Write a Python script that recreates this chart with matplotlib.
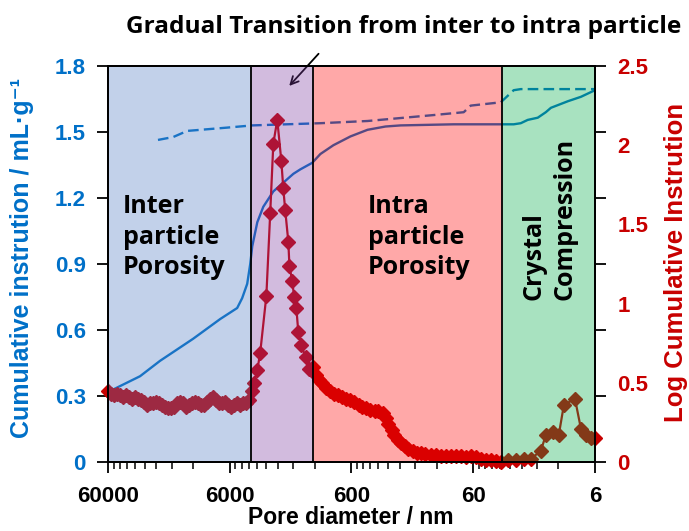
import matplotlib
matplotlib.use("Agg")
import matplotlib.pyplot as plt
from matplotlib.ticker import FixedLocator, NullFormatter

# cumulative intrusion (left axis, mL/g) vs pore diameter (nm)
cum_d = [60000, 32700, 22400, 12000, 7180, 5210, 4740, 4310, 4070, 3920,
         3560, 3180, 2630, 1800, 1580, 1260, 1080, 844, 611, 443,
         315, 237, 86.8, 34.3, 27.9, 24.4, 21.4, 17.7, 15.2, 13.8,
         10.0, 7.82, 6.0]
cum_v = [0.318, 0.39, 0.46, 0.56, 0.65, 0.70, 0.745, 0.81, 0.90, 0.98,
         1.09, 1.16, 1.23, 1.31, 1.33, 1.36, 1.40, 1.44, 1.48, 1.51,
         1.525, 1.53, 1.535, 1.535, 1.535, 1.54, 1.555, 1.565, 1.59, 1.61,
         1.64, 1.66, 1.69]

# second cumulative run (dashed)
dash_d = [23300, 17500, 13400, 6290, 3920, 1080, 443, 127, 71.8, 62.9,
          35.6, 27.9, 24.4, 6.0]
dash_v = [1.464, 1.477, 1.505, 1.52, 1.53, 1.54, 1.55, 1.577, 1.59, 1.62,
          1.635, 1.69, 1.695, 1.695]

# log differential intrusion (right axis)
log_d = [60000, 56700, 53600, 50600, 47800, 45200, 42700, 40300, 38100, 36000,
         34000, 32100, 30300, 28700, 27100, 25600, 24200, 22800, 21600, 20400,
         19300, 18200, 17200, 16200, 15300, 14500, 13700, 12900, 12200, 11500,
         10900, 10300, 9740, 9200, 8690, 8210, 7760, 7330, 6920, 6540,
         6180, 5840, 5520, 5210, 4920, 4650, 4390, 4150, 3920,
         3770, 3560, 3370, 3000, 2790, 2630, 2440, 2260, 2180, 2100,
         1980, 1940, 1840, 1770, 1700, 1640, 1550, 1430, 1330,
         1233, 1165, 1100, 1039, 964, 893, 828, 768, 711, 659,
         611, 567, 525, 487, 452, 419, 388, 360, 333, 315,
         298, 281, 266, 251, 237, 220, 204, 189, 175, 162,
         148, 134, 122, 111, 101, 91.9, 83.6, 76.0, 69.2, 62.9,
         57.2, 52.0, 47.3, 43.1, 39.2, 35.6,
         31.2, 26.8, 23.0, 20.2, 16.7, 15.2, 13.3, 11.9, 10.8, 8.76,
         7.82, 7.12, 6.47, 6.0]
log_v = [0.45, 0.43, 0.42, 0.43, 0.42, 0.41, 0.42, 0.41, 0.40, 0.41,
         0.40, 0.39, 0.38, 0.36, 0.37, 0.37, 0.38, 0.37, 0.36, 0.35,
         0.34, 0.34, 0.35, 0.37, 0.38, 0.37, 0.35, 0.36, 0.37, 0.38,
         0.37, 0.36, 0.36, 0.38, 0.40, 0.41, 0.39, 0.37, 0.37, 0.38,
         0.36, 0.35, 0.36, 0.37, 0.36, 0.37, 0.37, 0.39, 0.45,
         0.50, 0.58, 0.69, 1.05, 1.57, 2.01, 2.16, 1.90, 1.73, 1.59,
         1.39, 1.24, 1.14, 1.04, 0.97, 0.82, 0.74, 0.66, 0.59,
         0.60, 0.55, 0.52, 0.50, 0.47, 0.45, 0.43, 0.42, 0.41, 0.40,
         0.39, 0.38, 0.36, 0.35, 0.34, 0.33, 0.32, 0.32, 0.31, 0.28,
         0.24, 0.20, 0.17, 0.14, 0.12, 0.10, 0.085, 0.07, 0.06, 0.055,
         0.05, 0.045, 0.045, 0.04, 0.04, 0.04, 0.035, 0.035, 0.03, 0.035,
         0.03, 0.02, 0.015, 0.01, 0.005, 0.0,
         0.01, 0.015, 0.02, 0.02, 0.07, 0.17, 0.19, 0.17, 0.36, 0.40,
         0.21, 0.17, 0.15, 0.15]

# porosity regions: (from, to, colour)
regions = [(60000, 4000, "#4c7ac2"),
           (4000, 1250, "#7d3aa1"),
           (1250, 35, "#ff0000"),
           (35, 6, "#00aa49")]
region_edges = [4000, 1250, 35]

x_major = [60000, 6000, 600, 60, 6]
x_major_labels = ["60000", "6000", "600", "60", "6"]
x_minor = [k * 6 * 10 ** n for n in range(4) for k in range(2, 10)]
left_ticks = [0, 0.3, 0.6, 0.9, 1.2, 1.5, 1.8]
left_labels = ["0", "0.3", "0.6", "0.9", "1.2", "1.5", "1.8"]
right_ticks = [0, 0.5, 1, 1.5, 2, 2.5]
right_labels = ["0", "0.5", "1", "1.5", "2", "2.5"]

BLUE = "#0070c8"
RED = "#c80000"
arial = ["Liberation Sans", "DejaVu Sans"]
heading = ["Open Sans", "DejaVu Sans"]

fig = plt.figure(figsize=(6.89, 5.31), dpi=100)
ax = fig.add_axes([0.1567, 0.1299, 0.7068, 0.7458])
ax2 = ax.twinx()

ax.plot(cum_d, cum_v, color=BLUE, lw=1.7, zorder=2)
ax.plot(dash_d, dash_v, color=BLUE, lw=1.7, dashes=(4.5, 2.2), zorder=2)

ax2.plot(log_d, log_v, color=RED, lw=1.6, marker="D", ms=7.5,
         mec=RED, mfc=RED, zorder=1.5, clip_on=False)

# translucent region shading sits over all curves
for x0, x1, c in regions:
    ax2.axvspan(x0, x1, color=c, alpha=0.34, lw=0, zorder=2)
for xe in region_edges:
    ax2.axvline(xe, color="black", lw=1.3, zorder=2.4)

ax.set_xscale("log")
ax.set_xlim(60000, 6)
ax.set_ylim(0, 1.8)
ax2.set_ylim(0, 2.5)

ax.xaxis.set_major_locator(FixedLocator(x_major))
ax.set_xticklabels(x_major_labels)
ax.xaxis.set_minor_locator(FixedLocator(x_minor))
ax.xaxis.set_minor_formatter(NullFormatter())
ax.set_yticks(left_ticks)
ax.set_yticklabels(left_labels)
ax2.set_yticks(right_ticks)
ax2.set_yticklabels(right_labels)

ax.tick_params(axis="x", which="major", direction="out", length=8, width=1.3, pad=9)
ax.tick_params(axis="x", which="minor", direction="out", length=5, width=1.1)
ax.tick_params(axis="y", direction="out", length=8, width=1.3, right=True, pad=8,
               labelcolor=BLUE)
ax2.tick_params(axis="y", length=0, pad=16, labelcolor=RED)

for lab in ax.get_xticklabels() + ax.get_yticklabels() + ax2.get_yticklabels():
    lab.set_family(arial)
    lab.set_fontsize(16)
    lab.set_fontweight("bold")

for a in (ax, ax2):
    for s in a.spines.values():
        s.set_linewidth(1.4)

# axis titles
fig.text(351 / 689, 1 - 518 / 531, "Pore diameter / nm", family=arial,
         fontsize=16.5, fontweight="bold", ha="center", va="center")
fig.text(22 / 689, 1 - 258 / 531, "Cumulative instrution / mL·g⁻¹", family=arial,
         fontsize=18, fontweight="bold", color=BLUE, rotation=90,
         ha="center", va="center")
fig.text(676 / 689, 1 - 262 / 531, "Log Cumulative Instrution", family=arial,
         fontsize=18.5, fontweight="bold", color=RED, rotation=90,
         ha="center", va="center")

txt = dict(family=heading, fontsize=18, fontweight="bold", color="black",
           transform=ax.transAxes, zorder=5, linespacing=1.3)
ax2.text(0.031, 0.568, "Inter\nparticle\nPorosity", ha="left", va="center", **txt)
ax2.text(0.534, 0.568, "Intra\nparticle\nPorosity", ha="left", va="center", **txt)
ax2.text(0.907, 0.409, "Crystal\nCompression", ha="center", va="bottom",
         rotation=90, multialignment="left", **txt)

fig.text(404 / 689, 1 - 27 / 531, "Gradual Transition from inter to intra particle",
         family=heading, fontsize=17.6, fontweight="bold", ha="center", va="center")
ax.annotate("", xy=(2018, 1.70), xytext=(1079, 1.865), annotation_clip=False,
            arrowprops=dict(arrowstyle="->", color="black", lw=1.3,
                            mutation_scale=14), zorder=6)

fig.savefig("out.png", dpi=100)
